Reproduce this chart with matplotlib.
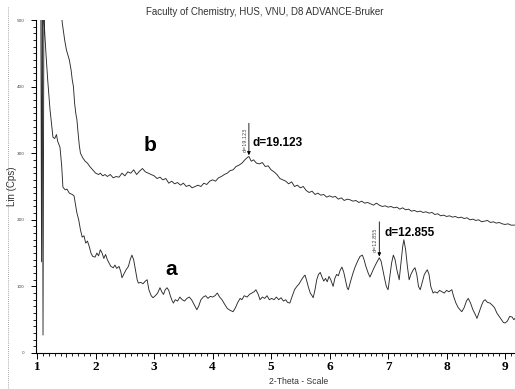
import numpy as np
import matplotlib
matplotlib.use('Agg')
import matplotlib.pyplot as plt
from matplotlib.lines import Line2D
from matplotlib.ticker import MultipleLocator

# curve b (upper)
b_x = [1.06, 1.075, 1.09, 1.40, 1.43, 1.47, 1.50, 1.55, 1.58, 1.60, 1.62, 1.64, 1.66, 1.68, 1.70, 1.72, 1.74,
       1.78, 1.82, 1.86, 1.90, 1.95, 2.00, 2.05, 2.08, 2.12, 2.16, 2.20, 2.25, 2.30, 2.35, 2.40, 2.45,
       2.50, 2.55, 2.60, 2.65, 2.70, 2.75, 2.80, 2.85, 2.90, 2.95, 3.00, 3.05, 3.10, 3.15, 3.20, 3.25,
       3.30, 3.35, 3.40, 3.45, 3.50, 3.55, 3.60, 3.65, 3.70, 3.75, 3.80, 3.85, 3.90, 3.95, 4.00, 4.05,
       4.10, 4.15, 4.20, 4.25, 4.30, 4.35, 4.40, 4.45, 4.50, 4.55, 4.60, 4.62, 4.66, 4.70, 4.75, 4.80,
       4.85, 4.90, 4.95, 5.00, 5.05, 5.10, 5.15, 5.20, 5.25, 5.30, 5.35, 5.40, 5.45, 5.50, 5.55, 5.60,
       5.65, 5.70, 5.75, 5.80, 5.85, 5.90, 5.95, 6.00, 6.05, 6.10, 6.15, 6.20, 6.25, 6.30, 6.35, 6.40,
       6.45, 6.50, 6.55, 6.60, 6.65, 6.70, 6.75, 6.80, 6.85, 6.90, 6.95, 7.00, 7.05, 7.10, 7.15, 7.20,
       7.25, 7.30, 7.35, 7.40, 7.45, 7.50, 7.55, 7.60, 7.65, 7.70, 7.75, 7.80, 7.85, 7.90, 7.95, 8.00,
       8.05, 8.10, 8.15, 8.20, 8.25, 8.30, 8.35, 8.40, 8.45, 8.50, 8.55, 8.60, 8.65, 8.70, 8.75, 8.80,
       8.85, 8.90, 8.95, 9.00, 9.05, 9.10, 9.17]
b_y = [600, 137, 600, 520, 495, 470, 455, 440, 425, 410, 400, 375, 360, 350, 330, 312, 300,
       293, 288, 285, 280, 275, 270, 268, 270, 266, 268, 265, 268, 263, 265, 264, 270,
       266, 272, 270, 275, 268, 273, 277, 272, 270, 268, 266, 262, 264, 260, 262, 255,
       258, 254, 256, 252, 255, 250, 252, 248, 250, 252, 250, 255, 253, 258, 260, 258,
       263, 265, 268, 270, 274, 275, 280, 282, 285, 290, 294, 295, 288, 290, 285, 284,
       286, 280, 281, 275, 272, 268, 262, 260, 258, 254, 257, 250, 252, 248, 250, 244,
       241, 243, 238, 240, 237, 238, 234, 236, 234, 235, 231, 233, 229, 231, 230, 228,
       229, 226, 228, 225, 226, 224, 222, 225, 222, 220, 221, 219, 220, 218, 219, 216,
       218, 215, 216, 213, 214, 212, 213, 211, 212, 210, 211, 208, 209, 206, 207, 205,
       206, 204, 205, 203, 204, 202, 203, 200, 201, 199, 200, 197, 198, 199, 196, 197,
       195, 196, 194, 193, 194, 192, 192]

# curve a (lower)
a_x = [1.085, 1.100, 1.115, 1.12, 1.15, 1.18, 1.22, 1.25, 1.27, 1.30, 1.33, 1.35, 1.39, 1.42, 1.44, 1.48,
       1.51, 1.55, 1.60, 1.63, 1.66, 1.68, 1.71, 1.74, 1.77, 1.80, 1.83, 1.86, 1.89, 1.92, 1.95, 1.99,
       2.02, 2.05, 2.08, 2.11, 2.14, 2.17, 2.20, 2.23, 2.26, 2.30, 2.33, 2.36, 2.40, 2.43, 2.45, 2.48,
       2.52, 2.56, 2.59, 2.62, 2.65, 2.68, 2.71, 2.73, 2.77, 2.81, 2.85, 2.88, 2.91, 2.95, 2.98, 3.02,
       3.06, 3.10, 3.13, 3.16, 3.19, 3.22, 3.25, 3.28, 3.31, 3.33, 3.36, 3.40, 3.44, 3.48, 3.52, 3.56,
       3.60, 3.64, 3.67, 3.70, 3.73, 3.76, 3.80, 3.84, 3.88, 3.92, 3.96, 4.00, 4.04, 4.08, 4.12, 4.16,
       4.20, 4.25, 4.30, 4.35, 4.39, 4.43, 4.47, 4.50, 4.54, 4.59, 4.63, 4.67, 4.71, 4.74, 4.78, 4.81,
       4.85, 4.89, 4.93, 4.97, 5.01, 5.05, 5.09, 5.13, 5.17, 5.21, 5.25, 5.28, 5.32, 5.36, 5.40, 5.44,
       5.48, 5.52, 5.55, 5.58, 5.61, 5.64, 5.67, 5.70, 5.72, 5.75, 5.78, 5.81, 5.84, 5.87, 5.90, 5.93,
       5.96, 5.99, 6.02, 6.06, 6.09, 6.12, 6.15, 6.18, 6.21, 6.24, 6.27, 6.30, 6.32, 6.36, 6.40, 6.44,
       6.48, 6.52, 6.56, 6.59, 6.62, 6.66, 6.69, 6.72, 6.76, 6.80, 6.85, 6.88, 6.91, 6.94, 6.97, 7.00,
       7.03, 7.06, 7.09, 7.12, 7.15, 7.19, 7.22, 7.25, 7.27, 7.30, 7.33, 7.36, 7.39, 7.43, 7.46, 7.49,
       7.52, 7.55, 7.58, 7.62, 7.67, 7.70, 7.73, 7.77, 7.80, 7.84, 7.88, 7.92, 7.96, 8.00, 8.04, 8.09,
       8.12, 8.16, 8.20, 8.23, 8.26, 8.30, 8.34, 8.37, 8.41, 8.45, 8.49, 8.52, 8.56, 8.60, 8.63, 8.66,
       8.70, 8.74, 8.78, 8.82, 8.86, 8.90, 8.94, 8.97, 9.00, 9.04, 9.08, 9.12, 9.15, 9.17]
a_y = [600, 27, 520, 495, 450, 410, 365, 340, 324, 322, 328, 318, 309, 280, 249, 245,
       246, 240, 238, 236, 220, 210, 200, 185, 174, 176, 165, 168, 160, 150, 145, 144,
       150, 146, 155, 150, 142, 148, 140, 135, 130, 128, 132, 127, 130, 122, 113, 118,
       125, 130, 140, 147, 140, 125, 110, 105, 106, 104, 108, 110, 95, 86, 83, 86,
       90, 98, 92, 88, 95, 98, 94, 85, 78, 75, 80, 78, 84, 80, 78, 82,
       84, 80, 75, 70, 65, 70, 80, 84, 86, 82, 85, 84, 86, 90, 84, 80,
       74, 67, 64, 62, 68, 76, 82, 80, 86, 84, 88, 90, 92, 95, 88, 80,
       84, 82, 86, 80, 82, 80, 84, 80, 83, 78, 80, 76, 75, 85, 95, 100,
       104, 110, 114, 117, 108, 98, 90, 86, 83, 95, 110, 118, 121, 114, 108, 112,
       107, 115, 110, 100, 112, 118, 116, 124, 129, 122, 110, 98, 95, 108, 120, 130,
       138, 145, 147, 140, 130, 120, 114, 120, 128, 135, 143, 138, 125, 112, 100, 95,
       115, 135, 147, 140, 125, 110, 135, 160, 170, 155, 130, 110, 118, 125, 128, 118,
       100, 95, 105, 118, 125, 118, 100, 90, 92, 90, 94, 92, 90, 94, 92, 95,
       85, 75, 68, 65, 62, 68, 78, 82, 75, 65, 58, 52, 62, 72, 78, 80,
       76, 75, 72, 68, 60, 55, 50, 46, 45, 48, 55, 54, 50, 52]

peak_b = (4.62, 'd=19.123')
peak_a = (6.85, 'd=12.855')

fig = plt.figure(figsize=(5.15, 3.89), dpi=100)
ax = fig.add_axes([36 / 515, 36 / 389, 479 / 515, 333 / 389])

ax.plot(b_x, b_y, color='#2a2a2a', lw=0.65)
ax.plot(a_x, a_y, color='#2a2a2a', lw=0.65)

ax.set_xlim(0.98, 9.17)
ax.set_ylim(0, 500)
for s in ['top', 'right']:
    ax.spines[s].set_visible(False)
for s in ['left', 'bottom']:
    ax.spines[s].set_linewidth(0.8)

ax.xaxis.set_major_locator(MultipleLocator(1))
ax.xaxis.set_minor_locator(MultipleLocator(0.1))
ax.yaxis.set_major_locator(MultipleLocator(100))
ax.yaxis.set_minor_locator(MultipleLocator(10))
ax.tick_params(axis='x', which='major', length=4, width=0.7, pad=2)
ax.tick_params(axis='x', which='minor', length=2, width=0.6)
ax.tick_params(axis='y', which='major', length=3.5, width=0.7, pad=5, labelsize=3, labelcolor='#444444')
ax.tick_params(axis='y', which='minor', length=2, width=0.6)
for lab in ax.get_xticklabels():
    lab.set_fontfamily(['Liberation Serif', 'DejaVu Serif'])
    lab.set_fontweight('bold')
    lab.set_fontsize(9.5)

# half-unit ticks slightly longer
for t in ax.xaxis.get_minor_ticks():
    if abs(round(t.get_loc() * 10) % 10 - 5) == 0:
        t.tick1line.set_markersize(3)

# peak markers
for (px, txt), top, bot, ys in [(peak_b, 345, 297, 320), (peak_a, 197, 145, 170)]:
    ax.annotate('', xy=(px, bot), xytext=(px, top),
                arrowprops=dict(arrowstyle='-|>', lw=0.6, color='k', mutation_scale=5,
                                shrinkA=0, shrinkB=0))
    ax.text(px - 0.07, ys, txt, rotation=90, fontsize=3.5, ha='center', va='center', color='#444444')

ax.text(4.69, 315, peak_b[1], fontsize=8.5, fontweight='bold', ha='left', va='center',
        family=['Liberation Sans', 'DejaVu Sans'])
ax.text(6.945, 180, peak_a[1], fontsize=8.5, fontweight='bold', ha='left', va='center',
        family=['Liberation Sans', 'DejaVu Sans'])
ax.text(2.93, 312, 'b', fontsize=15, fontweight='bold', ha='center', va='center',
        family=['Liberation Sans', 'DejaVu Sans'])
ax.text(3.29, 125, 'a', fontsize=15, fontweight='bold', ha='center', va='center',
        family=['Liberation Sans', 'DejaVu Sans'])

fig.text(0.515, 0.969, 'Faculty of Chemistry, HUS, VNU, D8 ADVANCE-Bruker', fontsize=7,
         ha='center', va='center', color='#333333', family=['Liberation Sans', 'DejaVu Sans'])
fig.text(0.579, 0.019, '2-Theta - Scale', fontsize=6.2, ha='center', va='center', color='#333333',
         family=['Liberation Sans', 'DejaVu Sans'])
fig.text(12 / 515, 1 - 186 / 389, 'Lin (Cps)', fontsize=7, rotation=90, ha='center', va='center',
         color='#333333', family=['Liberation Sans', 'DejaVu Sans'])

# dotted frame line at the left edge
fig.add_artist(Line2D([8 / 515, 8 / 515], [0, 1 - 7 / 389], transform=fig.transFigure,
                      color='#888888', lw=0.6, ls=(0, (1, 1.5))))

fig.savefig('out.png', dpi=100)
